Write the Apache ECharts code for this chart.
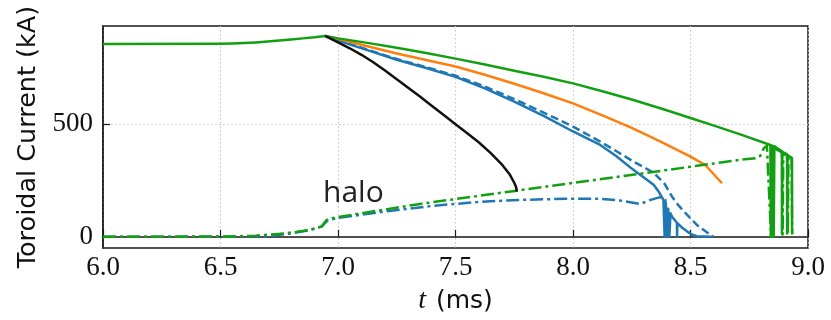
<!DOCTYPE html>
<html>
<head>
<meta charset="utf-8">
<script src="https://cdn.jsdelivr.net/npm/echarts@6/dist/echarts.min.js"></script>
<style>
  html, body { margin: 0; padding: 0; background: #fff; }
  #chart { width: 831px; height: 320px; }
</style>
</head>
<body>
<div id="chart"></div>
<script>
// ---- data (t in ms, current in kA) ----
const xTicks = [6.0, 6.5, 7.0, 7.5, 8.0, 8.5, 9.0];
const yTicks = [0, 500];

const greenT = [6.0, 6.5, 6.55, 6.6, 6.65, 6.7, 6.75, 6.8, 6.85, 6.9, 6.945, 7.0, 7.125, 7.25, 7.375, 7.5, 7.625, 7.75, 7.875, 8.0, 8.125, 8.25, 8.375, 8.5, 8.6, 8.712, 8.84, 8.842, 8.845, 8.848, 8.851, 8.854, 8.857, 8.889, 8.889, 8.891, 8.911, 8.911, 8.913, 8.932, 8.932];
const greenV = [857, 858, 859, 861, 864, 868, 872, 877, 882, 887, 893, 882, 862, 840, 817, 792, 766, 738, 711, 682, 647, 610, 570, 528, 494, 455, 408, 0, 406, 0, 404, 0, 402, 380, 15, 378, 366, 15, 364, 349, 15];

const orangeT = [6.945, 7.0, 7.125, 7.25, 7.375, 7.5, 7.625, 7.75, 7.875, 8.0, 8.125, 8.25, 8.375, 8.5, 8.563, 8.634];
const orangeV = [893, 880, 847, 815, 786, 757, 720, 680, 638, 593, 540, 484, 422, 356, 319, 238];

const blueT = [6.945, 7.0, 7.125, 7.25, 7.375, 7.5, 7.625, 7.75, 7.875, 8.0, 8.116, 8.185, 8.25, 8.3, 8.343, 8.365, 8.385, 8.39, 8.395, 8.40, 8.405, 8.41, 8.415, 8.421, 8.442, 8.443, 8.444, 8.465, 8.485, 8.505, 8.527, 8.59];
const blueV = [893, 872, 830, 787, 750, 711, 660, 601, 537, 468, 408, 358, 303, 265, 231, 200, 164, 0, 150, 0, 125, 0, 105, 90, 62, 0, 60, 40, 24, 10, 2, 0];

const blueDashT = [6.945, 7.0, 7.125, 7.25, 7.375, 7.5, 7.625, 7.75, 7.875, 8.0, 8.116, 8.185, 8.258, 8.343, 8.39, 8.421, 8.45, 8.485, 8.53, 8.584, 8.598];
const blueDashV = [893, 874, 832, 790, 754, 716, 668, 612, 552, 490, 423, 380, 334, 285, 235, 179, 138, 98, 50, 9, 0];

const blackT = [6.945, 7.0, 7.05, 7.1, 7.15, 7.2, 7.25, 7.3, 7.35, 7.4, 7.45, 7.5, 7.55, 7.6, 7.65, 7.7, 7.73, 7.75, 7.758, 7.761];
const blackV = [893, 864, 838, 809, 776, 739, 700, 661, 622, 581, 541, 500, 460, 419, 372, 318, 278, 240, 220, 201];

const greenHaloT = [6.0, 6.54, 6.65, 6.753, 6.82, 6.881, 6.931, 6.942, 6.952, 6.995, 7.35, 7.761, 8.2, 8.712, 8.776, 8.795, 8.805, 8.811, 8.825, 8.843, 8.846, 8.889, 8.892, 8.895, 8.911, 8.914, 8.917, 8.93, 8.933];
const greenHaloV = [0, 1, 5, 13, 21, 31, 46, 62, 75, 87, 146, 205, 268, 342, 349, 358, 372, 393, 405, 0, 400, 375, 10, 372, 362, 10, 360, 350, 10];

const blueHaloT = [6.0, 6.5, 6.7, 6.8, 6.88, 6.93, 6.955, 7.0, 7.2, 7.4, 7.6, 7.775, 7.988, 8.116, 8.2, 8.286, 8.33, 8.371, 8.393, 8.396];
const blueHaloV = [0, 0, 3, 15, 30, 45, 72, 84, 112, 137, 155, 164, 169, 169, 161, 146, 164, 176, 165, 0];

const haloLabel = 'halo';
const yName = 'Toroidal Current (kA)';

// ---- build ----
const zip = (a, b) => a.map((t, i) => [t, b[i]]);
const C = { blue: '#1f77b4', orange: '#ff7f0e', green: '#12a012', black: '#111111' };

function line(name, data, color, type, z) {
  return {
    name, type: 'line', data, showSymbol: false, symbol: 'none', z: z,
    silent: true, animation: false, clip: true,
    lineStyle: { color, width: 2.5, type: type || 'solid', cap: 'butt', join: 'round' }
  };
}

const chart = echarts.init(document.getElementById('chart'), null, { renderer: 'canvas' });
chart.setOption({
  animation: false,
  backgroundColor: '#ffffff',
  grid: { left: 103, right: 23, top: 26, bottom: 72, show: true, borderColor: '#1a1a1a', borderWidth: 1.5, containLabel: false },
  xAxis: {
    type: 'value', min: 6, max: 9, interval: 0.5,
    axisLine: { show: true, lineStyle: { color: '#1a1a1a', width: 1.5 } },
    axisTick: { show: true, inside: true, length: 7, lineStyle: { color: '#1a1a1a', width: 1.2 } },
    axisLabel: { formatter: v => v.toFixed(1), fontFamily: 'Liberation Serif', fontSize: 27, color: '#111', margin: 6 },
    splitLine: { show: true, lineStyle: { color: '#c4c4c4', width: 1, type: [1.5, 2.5] } },
    name: '{i|t}{s|}{n|(ms)}', nameLocation: 'middle', nameGap: 39,
    nameTextStyle: { rich: {
      i: { fontFamily: 'Liberation Serif', fontStyle: 'italic', fontSize: 28, color: '#111' },
      s: { width: 10 },
      n: { fontFamily: 'DejaVu Sans', fontSize: 25, color: '#111' }
    } }
  },
  yAxis: {
    type: 'value', min: -50, max: 937,
    axisLine: { show: true, lineStyle: { color: '#1a1a1a', width: 1.5 } },
    axisTick: { show: true, inside: true, length: 7, customValues: yTicks, lineStyle: { color: '#1a1a1a', width: 1.2 } },
    axisLabel: { customValues: yTicks, fontFamily: 'Liberation Serif', fontSize: 27, color: '#111', margin: 10 },
    splitLine: { show: true, lineStyle: { color: '#c4c4c4', width: 1, type: [1.5, 2.5] } },
    name: yName, nameLocation: 'middle', nameGap: 57, nameRotate: 90,
    nameTextStyle: { fontFamily: 'DejaVu Sans', fontSize: 25.5, color: '#111' }
  },
  graphic: [{
    type: 'text', left: 323, top: 178, z: 100,
    style: { text: haloLabel, font: '30px "Open Sans"', fill: '#222' }
  }],
  series: [
    line('blue-halo', zip(blueHaloT, blueHaloV), C.blue, [13, 4, 3, 4], 2),
    line('blue', zip(blueT, blueV), C.blue, 'solid', 3),
    line('blue-dashed', zip(blueDashT, blueDashV), C.blue, [8, 4], 3),
    line('orange', zip(orangeT, orangeV), C.orange, 'solid', 4),
    line('green-halo', zip(greenHaloT, greenHaloV), C.green, [13, 4, 3, 4], 5),
    line('green', zip(greenT, greenV), C.green, 'solid', 5),
    line('black', zip(blackT, blackV), C.black, 'solid', 6)
  ]
});
</script>
</body>
</html>
